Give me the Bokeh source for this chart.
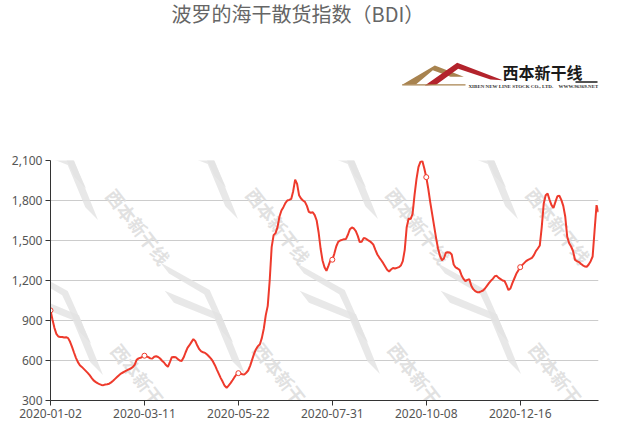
from bokeh.plotting import figure
from bokeh.layouts import column
from bokeh.models import Range1d, FixedTicker, NumeralTickFormatter
from bokeh.core.properties import value
from bokeh.embed import file_html
from bokeh.resources import INLINE
import math

# ---------------- data ----------------
title_text = "波罗的海干散货指数（BDI）"
tick_index = [0, 48, 96, 144, 192, 240]
tick_labels = ["2020-01-02", "2020-03-11", "2020-05-22", "2020-07-31", "2020-10-08", "2020-12-16"]
y_ticks = [300, 600, 900, 1200, 1500, 1800, 2100]

bdi = [
    976, 907, 845, 800, 780, 776, 776, 772, 775, 768,
    740, 702, 660, 620, 588, 565, 552, 537, 522, 507,
    490, 470, 451, 440, 430, 423, 417, 415, 420, 422,
    426, 436, 448, 462, 476, 490, 502, 510, 518, 526,
    533, 540, 550, 568, 605, 616, 620, 628, 636, 630,
    625, 616, 614, 628, 632, 626, 615, 598, 585, 566,
    552, 588, 625, 627, 624, 612, 600, 597, 622, 660,
    695, 715, 738, 760, 745, 712, 685, 668, 662, 657,
    645, 630, 614, 593, 565, 532, 500, 468, 440, 410,
    396, 412, 430, 452, 475, 495, 505, 503, 497, 494,
    508, 525, 560, 605, 650, 685, 708, 722, 770, 840,
    940, 1010, 1200, 1450, 1540, 1555, 1600, 1680, 1725, 1750,
    1780, 1800, 1805, 1812, 1870, 1956, 1925, 1840, 1815, 1800,
    1790, 1760, 1715, 1708, 1712, 1690, 1650, 1560, 1440, 1350,
    1300, 1272, 1310, 1350, 1356, 1400, 1455, 1490, 1500, 1505,
    1510, 1512, 1545, 1585, 1598, 1590, 1570, 1535, 1488, 1490,
    1518, 1515, 1505, 1496, 1484, 1468, 1430, 1395, 1372, 1352,
    1330, 1305, 1280, 1268, 1283, 1294, 1290, 1295, 1300, 1312,
    1345, 1430, 1600, 1665, 1660, 1700, 1840, 1960, 2050, 2090,
    2097, 2040, 1975, 1890, 1790, 1700, 1610, 1520, 1440, 1385,
    1352, 1365, 1408, 1412, 1410, 1395, 1320, 1298, 1290, 1280,
    1240, 1212, 1195, 1205, 1210, 1160, 1135, 1120, 1112, 1112,
    1118, 1125, 1140, 1160, 1180, 1198, 1212, 1232, 1235, 1220,
    1210, 1200, 1196, 1165, 1128, 1140, 1180, 1215, 1250, 1275,
    1300, 1315, 1330, 1345, 1355, 1362, 1370, 1390, 1420, 1440,
    1462, 1600, 1775, 1840, 1852, 1805, 1765, 1745, 1790, 1832,
    1836, 1805, 1760, 1680, 1530, 1480, 1455, 1420, 1355, 1345,
    1338, 1325, 1314, 1305, 1303, 1320, 1345, 1380, 1575, 1765,
    1712,
]
idx = list(range(len(bdi)))

RED = "#ee3a2c"
FONT = "Noto Sans"
CJK = "Noto Sans CJK SC"
W = 615
FL, FR = 50, 598   # frame left / right in page pixels (frames of the column are aligned)

# ---------------- header (title + logo), coordinates in page pixels ----------------
top = figure(width=W, height=108, x_range=Range1d(FL, FR), y_range=Range1d(108, 0),
             output_backend="svg", toolbar_location=None,
             x_axis_location=None, y_axis_location=None,
             min_border_left=FL, min_border_right=W - FR, min_border_top=0, min_border_bottom=0)
top.grid.visible = False
top.outline_line_color = None

top.text(x=[171], y=[13], text=[title_text], text_align="left", text_baseline="middle",
         text_font=value(CJK), text_font_size="20px", text_color="#666666")

def zp(pts):
    return [395 + a / 3 for a, b in pts], [55 + b / 3 for a, b in pts]

gx, gy = zp([(20, 88), (118, 30), (205, 64), (165, 64), (112, 44), (62, 86)])
top.patch(gx, gy, fill_color="#a8834f", line_color=None)
rx, ry = zp([(88, 90), (185, 22), (322, 74), (285, 72), (188, 40), (122, 88)])
top.patch(rx, ry, fill_color="#b3232c", line_color=None)
bx, by = zp([(20, 88), (210, 88)])
top.line(bx, by, line_color="#a8834f", line_width=1.2)
top.text(x=[502], y=[71], text=["西本新干线"], text_align="left", text_baseline="middle",
         text_font=value(CJK), text_font_size="16px", text_font_style="bold", text_color="#1a1a1a")
top.line([575, 597], [81.5, 81.5], line_color="#1a1a1a", line_width=1.5)
top.text(x=[468], y=[86], text=["XIBEN NEW LINE STOCK CO., LTD."], text_align="left",
         text_baseline="middle", text_font=value("Liberation Serif"), text_font_size="5px",
         text_font_style="bold", text_color="#333333")
top.text(x=[558], y=[86], text=["WWW.96369.NET"], text_align="left",
         text_baseline="middle", text_font=value("Liberation Serif"), text_font_size="5px",
         text_font_style="bold", text_color="#333333")

# ---------------- chart ----------------
p = figure(width=W, height=316, x_range=Range1d(0, len(bdi) - 1), y_range=Range1d(300, 2100),
           output_backend="svg", toolbar_location=None,
           min_border_left=FL, min_border_right=W - FR, min_border_top=52, min_border_bottom=24)
p.outline_line_color = None
p.xgrid.visible = False
p.ygrid.grid_line_color = "#cccccc"
p.ygrid.grid_line_width = 1

# watermarks (decoration), positioned in page pixels
def px2d(xp, yp):
    return (xp - FL) * (len(bdi) - 1) / float(FR - FL), 2100 - (yp - 160) * 7.5

wm_centers = [(138, 226), (278, 225), (418, 225), (558, 225),
              (143, 381), (285, 380), (420, 380), (561, 380)]
ang_deg = 52
ang = -ang_deg * math.pi / 180
ux, uy = math.cos(math.radians(ang_deg)), math.sin(math.radians(ang_deg))
vx, vy = uy, -ux
# logo streaks in local (u along text, v up from text) coordinates
gold_loc = [(-170, -26), (-118, -4), (-62, -18), (-78, -20), (-118, -11), (-156, -26)]
red_loc = [(-145, -40), (-92, -10), (-30, -28), (-48, -30), (-92, -18), (-130, -40)]
wx, wy = [], []
pxs, pys = [], []
for cx, cy in wm_centers:
    dx, dy = px2d(cx, cy)
    wx.append(dx); wy.append(dy)
    for shape in (gold_loc, red_loc):
        xs, ys = [], []
        for a, b in shape:
            X, Y = px2d(cx + a * ux + b * vx, cy + a * uy + b * vy)
            xs.append(X); ys.append(Y)
        pxs.append(xs); pys.append(ys)
p.patches(pxs, pys, fill_color="#e2e2e2", fill_alpha=0.8, line_color=None)
p.text(x=wx, y=wy, text=["西本新干线"] * len(wx), angle=ang, text_align="center",
       text_baseline="middle", text_font=value(CJK), text_font_size="18px",
       text_font_style="bold", text_color="#dcdcdc", text_alpha=0.85)

p.line(idx, bdi, line_color=RED, line_width=2)
p.scatter([idx[i] for i in tick_index], [bdi[i] for i in tick_index], size=5,
          fill_color="white", line_color=RED, line_width=1)

for ax in (p.xaxis[0], p.yaxis[0]):
    ax.axis_line_color = "#333333"
    ax.major_tick_line_color = "#333333"
    ax.minor_tick_line_color = None
    ax.major_label_text_font = FONT
    ax.major_label_text_font_size = "12px"
    ax.major_label_text_color = "#555555"
    ax.major_tick_in = 0
    ax.major_tick_out = 5
    ax.major_label_standoff = 3

p.xaxis.ticker = FixedTicker(ticks=tick_index)
p.xaxis.major_label_overrides = {i: s for i, s in zip(tick_index, tick_labels)}
p.yaxis.ticker = FixedTicker(ticks=y_ticks)
p.yaxis.formatter = NumeralTickFormatter(format="0,0")

layout = column(top, p)
open("out.html", "w").write(file_html(layout, INLINE))
